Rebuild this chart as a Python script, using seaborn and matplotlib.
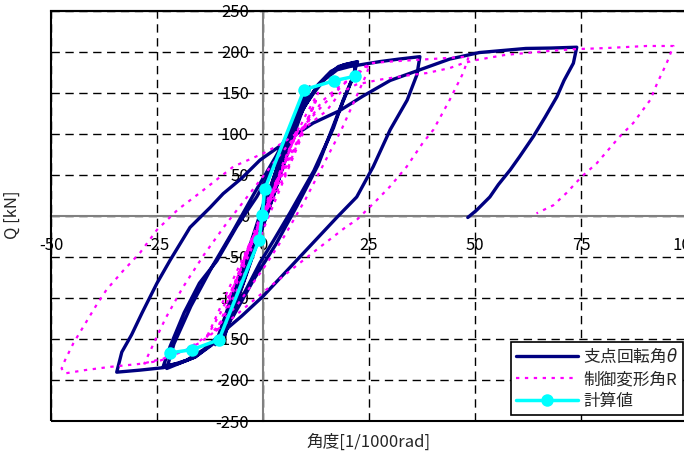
import matplotlib
matplotlib.use("Agg")
import matplotlib.pyplot as plt
import seaborn as sns
import pandas as pd
from matplotlib.patches import Rectangle

# ---------------- data ----------------
theta_x = [0, 2, 3.5, 3.0, 1.0, -1.5, -3.2, -2.7, -0.8, 1.5, 4.0, 3.4, 1.2, -1.6, -3.6, -3.0, -0.6,
           2.5, 5, 6.8, 6.0, 3, 0, -3, -6, -6.9, -6.1, -3, 0, 3, 7, 6.2, 3.3, 0, -3.2, -7.1, -6.3, -3, 0,
           3, 6, 9, 10.5, 9.8, 6.5, 3, 0, -4, -8, -10.6, -9.9, -6.5, -3, 0,
           4, 8, 11, 10.3, 6.8, 3, -1, -5, -9, -11.2, -10.3, -6.8, -3, 0,
           3.5, 7.5, 9.5, 8.9, 6, 2.5, -1.5, -5.5, -9, -8.3, -5, -1, 2.5, 6.5, 9.8, 9.0, 5.5, 1.5, -2.5,
           -6.5, -9.8, -9.0, -5.5, -1.5,
           4, 8, 12, 15, 17.8, 20, 22, 21.3, 18.9, 16.6, 12, 6.4, 2.5, -0.7, -4, -8, -12, -16, -20, -23.5,
           -21.9, -18.6, -15, -10.9, -6.2, -1.5, 3, 7, 10, 13, 16, 19, 22.3,
           21, 17.5, 13, 8, 3, -2, -7, -11, -16, -22.7,
           -21, -17, -12, -7, -2, 3, 8, 12, 14.5, 17.5, 20.5, 22.9, 27.6, 32, 37,
           36.3, 34, 30, 26, 22.1, 17.4, 8.7, 0, -5, -10, -14, -18, -23.5, -29, -34.5,
           -33.3, -31, -28.5, -25, -21.9, -17.2, -12.5, -9.4, -5, -0.7, 4.8, 8, 11.8, 18, 23.6, 30, 37, 44,
           51, 62, 68, 74,
           73.2, 71, 69.3, 66.5, 63.8, 60.5, 58.3, 55.5, 53.5, 50.4, 48.3]
theta_y = [0, 30, 52, 44, 12, -24, -50, -41, -10, 25, 61, 50, 16, -28, -56, -45, -6,
           38, 78, 106, 93, 46, -2, -50, -95, -107, -93, -45, 5, 50, 110, 97, 48, -4, -55, -110, -96, -44, 7,
           52, 95, 135, 153, 140, 90, 36, -10, -70, -128, -153, -140, -88, -38, 10,
           68, 122, 157, 143, 92, 33, -26, -86, -138, -157, -143, -90, -35, 13,
           55, 115, 140, 128, 82, 25, -35, -95, -145, -132, -80, -15, 38, 95, 146, 132, 75, 12, -48,
           -108, -150, -136, -82, -20,
           70, 118, 152, 170, 182, 185, 187, 170, 141, 107, 55, 4, -30, -57, -90, -128, -157, -172, -180, -183,
           -159, -118, -82, -55, -13, 23, 65, 105, 135, 160, 176, 184, 188,
           166, 122, 62, 12, -35, -76, -122, -152, -172, -186,
           -156, -110, -62, -18, 28, 72, 120, 150, 166, 178, 182, 184, 188, 191, 194,
           172, 141, 105, 60, 23, -2, -50, -98, -122, -144, -163, -176, -185, -188, -190.5,
           -166, -145, -118, -82, -54, -14, 10, 27, 46, 68, 88, 100, 113, 128, 146, 165, 178, 191,
           199, 204, 204.5, 205.5,
           186, 165, 145, 120, 97, 72, 56, 38, 23, 7, -2]

r_x = [0, 2, 4, 3, 0, -2, -4, -3, 0, 2.5, 4.5, 3.5, 0, -2.5, -4.5, -3.5, 0,
       4, 8, 7, 4, 0, -4, -8, -7, -3, 1, 4.5, 8.5, 7.2, 3.5, -0.5, -4.5, -8.5, -7.2, -3, 1,
       5, 10, 13, 12, 8, 3, -2, -6, -10, -13.5, -12.2, -8, -3,
       2, 6, 9, 12.5, 11.5, 9, 5, 1, -3, -7, -11, -10, -6, -1,
       2, 6, 10, 14, 18, 22, 25.2, 24, 22, 18.5, 14, 10, 5, 0, -6, -12, -18, -24, -28,
       -26, -23, -19, -14, -9, -3, 3, 10, 16, 21, 25.2, 30, 36.2, 42, 48.5,
       48, 47.2, 44, 40.2, 37.7, 33.9, 30, 26.8, 22.1, 19.7, 12.7, 1.7, -8, -15, -22, -28.3, -36, -42, -46.7, -47.5,
       -46.7, -44.7, -42, -39.2, -36.9, -33, -29, -25, -20, -14.9, -7, 0, 4.7, 10, 15, 18.2, 22, 27.6, 33.9, 38.6,
       44, 47.2, 50.4, 57, 65.3, 73, 81, 90.5, 96.8,
       95.2, 93, 91.3, 87.3, 84.2, 78.7, 75.2, 71.6, 68.5, 64.5]
r_y = [0, 25, 50, 40, 5, -22, -48, -38, -3, 28, 55, 45, 2, -28, -53, -42, -2,
       50, 105, 92, 52, 8, -45, -100, -87, -38, 12, 55, 108, 92, 42, -8, -55, -106, -90, -38, 12,
       68, 122, 150, 136, 88, 32, -25, -75, -118, -150, -136, -88, -32,
       15, 60, 100, 140, 128, 95, 45, -5, -55, -100, -140, -128, -80, -20,
       22, 70, 110, 140, 158, 172, 184, 168, 145, 105, 60, 20, -25, -65, -108, -142, -163, -176, -180,
       -158, -125, -88, -48, -12, 28, 68, 112, 145, 170, 186, 188, 190, 192, 194,
       186, 174, 141, 105, 89, 60, 36, 19, -5, -13, -41, -86, -128, -155, -172, -180, -184, -188, -192, -186,
       -176, -155, -132, -108, -90, -67, -45, -17, 8, 28, 60, 76, 89, 108, 128, 150, 160, 166, 171, 174,
       180, 186, 190, 196, 200, 203, 204.5, 207, 207,
       186, 162, 141, 113, 97, 64, 48, 28, 13, 3]

calc_x = [-21.9, -16.7, -10.4, -0.9, -0.2, 0.4, 9.7, 16.7, 21.6]
calc_y = [-167, -163, -151, -29, 1, 32.5, 153.7, 164.6, 170]

x_ticks = [-50, -25, 0, 25, 50, 75, 100]
y_ticks = [-250, -200, -150, -100, -50, 0, 50, 100, 150, 200, 250]

label_theta = "支点回転角$\\theta$"
label_r = "制御変形角R"
label_calc = "計算値"

# ---------------- plot ----------------
sns.set_theme(style="white")
plt.rcParams['font.family'] = ['Noto Sans CJK JP', 'DejaVu Sans']
plt.rcParams['axes.unicode_minus'] = False

fig = plt.figure(figsize=(6.84, 4.65), dpi=100)
ax = fig.add_axes([51 / 684, 44 / 465, 636 / 684, 410.3 / 465])

df_t = pd.DataFrame({"x": theta_x, "y": theta_y})
df_r = pd.DataFrame({"x": r_x, "y": r_y})
df_c = pd.DataFrame({"x": calc_x, "y": calc_y})

sns.lineplot(data=df_t, x="x", y="y", sort=False, estimator=None, ax=ax,
             color="#000080", linewidth=2.4, label=label_theta, zorder=3)
sns.lineplot(data=df_r, x="x", y="y", sort=False, estimator=None, ax=ax,
             color="#FF00FF", linewidth=1.6, linestyle=(0, (1.5, 2.5)), label=label_r, zorder=4)
sns.lineplot(data=df_c, x="x", y="y", sort=False, estimator=None, ax=ax,
             color="#00FFFF", linewidth=2.5, marker="o", markersize=9,
             markeredgewidth=0, label=label_calc, zorder=5)

ax.set_xlim(-50, 100)
ax.set_ylim(-250, 250)
ax.set_xticks(x_ticks)
ax.set_yticks(y_ticks)
ax.set_xticklabels([str(v) for v in x_ticks])
ax.set_yticklabels([str(v) for v in y_ticks])

ax.grid(True, color="black", linestyle=(0, (6, 4)), linewidth=1.0)
ax.set_axisbelow(True)

for s in ["left", "bottom"]:
    ax.spines[s].set_position(("data", 0))
    ax.spines[s].set_color("#808080")
    ax.spines[s].set_linewidth(1.5)
for s in ["top", "right"]:
    ax.spines[s].set_color("black")
    ax.spines[s].set_linewidth(1.5)
ax.add_patch(Rectangle((0, 0), 1, 1, transform=ax.transAxes, fill=False,
                       edgecolor="black", linewidth=1.5, clip_on=False, zorder=6))

ax.tick_params(axis="y", direction="out", length=4, pad=6, labelsize=12, colors="black")
ax.tick_params(axis="x", direction="out", length=4, pad=11, labelsize=12, colors="black")

ax.set_xlabel("")
ax.set_ylabel("")
fig.text(369 / 684, 1 - 442 / 465, "角度[1/1000rad]", ha="center", va="center", fontsize=12)
fig.text(12 / 684, 1 - 215 / 465, "Q [kN]", ha="center", va="center", rotation=90, fontsize=12)

leg = ax.legend(loc="lower right", bbox_to_anchor=(0.994, 0.0146), fontsize=12,
                frameon=True, fancybox=False, framealpha=1, edgecolor="black",
                handlelength=3.7, handletextpad=0.3, labelspacing=0.3, borderpad=0.3,
                borderaxespad=0)
leg.get_frame().set_linewidth(1.2)
leg.set_zorder(10)

fig.savefig("out.png", dpi=100)
